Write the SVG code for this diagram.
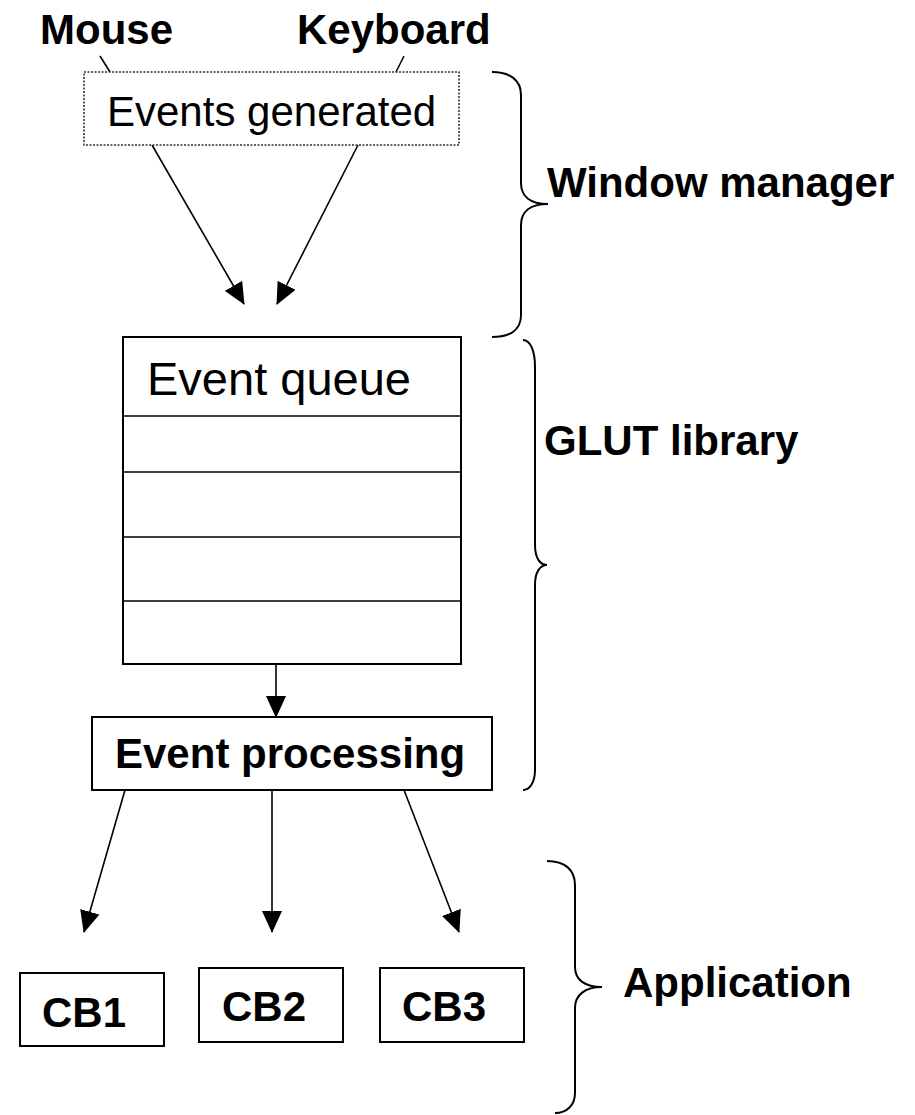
<svg xmlns="http://www.w3.org/2000/svg" width="915" height="1115" viewBox="0 0 915 1115">
<defs>
<style>
text{font-family:"Liberation Sans",Arial,sans-serif;fill:#000}
.b{font-weight:bold;font-size:42px}
.r{font-size:42px}
.box{fill:#fff;stroke:#000;stroke-width:2}
.ln{fill:none;stroke:#000;stroke-width:1.6}
.br{fill:none;stroke:#000;stroke-width:2}
</style>
<marker id="ah" markerUnits="userSpaceOnUse" viewBox="0 0 22 20" markerWidth="22" markerHeight="20" refX="21" refY="10" orient="auto">
<path d="M0,0 L22,10 L0,20 z" fill="#000"/>
</marker>
</defs>
<rect width="915" height="1115" fill="#fff"/>

<g id="connectors">
<line class="ln" x1="100" y1="56" x2="110" y2="72"/>
<line class="ln" x1="404" y1="56" x2="396" y2="72"/>
<line class="ln" x1="152" y1="145" x2="244" y2="304" marker-end="url(#ah)"/>
<line class="ln" x1="358" y1="145" x2="277" y2="304" marker-end="url(#ah)"/>
<line class="ln" x1="276" y1="664" x2="276" y2="717" marker-end="url(#ah)"/>
<line class="ln" x1="125" y1="790" x2="84" y2="932" marker-end="url(#ah)"/>
<line class="ln" x1="272" y1="790" x2="272" y2="932" marker-end="url(#ah)"/>
<line class="ln" x1="404" y1="790" x2="459" y2="932" marker-end="url(#ah)"/>
</g>

<g id="mouse"><text class="b" x="40" y="44">Mouse</text></g>
<g id="keyboard"><text class="b" x="297" y="44">Keyboard</text></g>

<g id="events-generated">
<rect x="84" y="72" width="375" height="73" fill="#fff" stroke="#333" stroke-width="1.6" stroke-dasharray="2,1.5"/>
<text class="r" x="107" y="126">Events generated</text>
</g>

<g id="event-queue">
<rect class="box" x="123" y="337" width="338" height="327"/>
<line class="ln" x1="123" y1="416" x2="461" y2="416"/>
<line class="ln" x1="123" y1="472" x2="461" y2="472"/>
<line class="ln" x1="123" y1="537" x2="462" y2="537"/>
<line class="ln" x1="123" y1="601" x2="462" y2="601"/>
<text x="147" y="395" font-size="47">Event queue</text>
</g>

<g id="event-processing">
<rect class="box" x="92" y="717" width="400" height="73"/>
<text class="b" x="115" y="768">Event processing</text>
</g>

<g id="cb1">
<rect class="box" x="20" y="973" width="144" height="73"/>
<text class="b" x="42" y="1027" font-size="41">CB1</text>
</g>
<g id="cb2">
<rect class="box" x="199" y="968" width="144" height="74"/>
<text class="b" x="222" y="1021" font-size="41">CB2</text>
</g>
<g id="cb3">
<rect class="box" x="380" y="968" width="144" height="74"/>
<text class="b" x="402" y="1021" font-size="41">CB3</text>
</g>

<g id="window-manager">
<path class="br" d="M492,72 C510,72 521,80 521,95 L521,183 C521,196 530,204 548,204 C530,204 521,212 521,225 L521,315 C521,330 510,337 492,337"/>
<text class="b" x="547" y="197">Window manager</text>
</g>

<g id="glut-library">
<path class="br" d="M523,340 C530,340 535,350 535,367 L535,545 C535,558 540,565 547,565 C540,565 535,572 535,585 L535,770 C535,782 530,790 523,790"/>
<text class="b" x="544" y="455">GLUT library</text>
</g>

<g id="application">
<path class="br" d="M547,861 C565,861 575,870 575,885 L575,967 C575,980 585,987 602,987 C585,987 575,995 575,1008 L575,1093 C575,1105 567,1113 555,1113"/>
<text class="b" x="623" y="997">Application</text>
</g>
</svg>
